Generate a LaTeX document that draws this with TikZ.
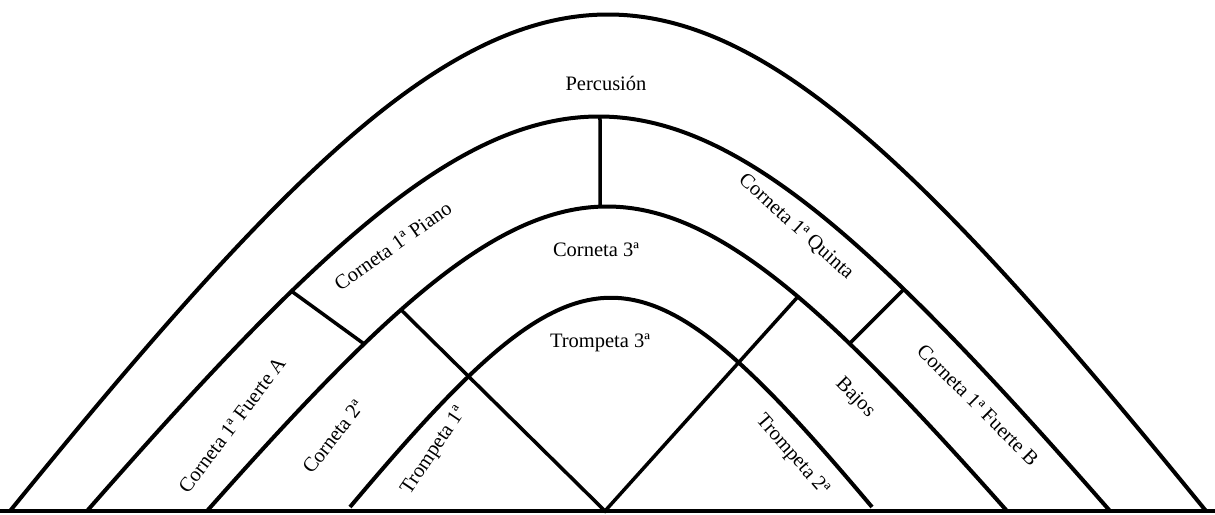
\documentclass[tikz,border=0pt]{standalone}
\usepackage{fontspec}
\setmainfont{Liberation Serif}
\usetikzlibrary{intersections}
\tikzset{%
  % Specifications for style of lines and texts:
        arcline/.style = {line width=4pt},
     divider/.style = {line width=3.5pt},
       floorline/.style = {line width=3.5pt},
   bandtext/.style = {inner sep=0pt, font=\fontsize{20.5}{24}\selectfont},
}

\begin{document}
\begin{tikzpicture}[x=1pt, y=-1pt]
  \useasboundingbox (0,0) rectangle (1215,514);
  % Specification of the four arcs
  \draw[arcline, name path=percu] (10,511) .. controls (548,-151) and (668,-151) .. (1206,511);
  \draw[arcline, name path=corn]  (87,511) .. controls (548,-15) and (650,-15) .. (1110,511);
  \draw[arcline, name path=inner] (207,511) .. controls (567,105) and (647,105) .. (1007,511);
  \draw[arcline, name path=tromp] (350,507) .. controls (585,228) and (637,228) .. (872,507);
  % floor
  \coordinate (floorL) at (0,511);
  \coordinate (floorR) at (1215,511);
  \coordinate (vbase)  at (605,511);
  \draw[floorline] (floorL) -- (floorR);
  % guide lines for the dividers
  \path[name path=gvert]   (600,90) -- (600,240);
  \path[name path=gpiano]  (250,261) -- (400,370);
  \path[name path=gleft]   (vbase) -- (305,215);
  \path[name path=gright]  (vbase) -- (875,211);
  \path[name path=gquinta] (820,373) -- (950,243);
  \path[name intersections={of=corn and gvert, by=vtop}];
  \path[name intersections={of=inner and gvert, by=vbot}];
  \path[name intersections={of=corn and gpiano, by=pianoA}];
  \path[name intersections={of=inner and gpiano, by=pianoB}];
  \path[name intersections={of=inner and gleft, by=vleft}];
  \path[name intersections={of=inner and gright, by=vright}];
  \path[name intersections={of=inner and gquinta, by=quintaA}];
  \path[name intersections={of=corn and gquinta, by=quintaB}];
  % Specification of the dividers
  \draw[divider] (vtop) -- (vbot);
  \draw[divider] (pianoA) -- (pianoB);
  \draw[divider] (quintaA) -- (quintaB);
  \draw[divider] (vleft) -- (vbase) -- (vright);
  % Specification of the texts
  \node (percusion) [bandtext] at (606,83) {Percusión};
  \node (piano)     [bandtext, rotate=35]  at (393,246) {Corneta 1ª Piano};
  \node (quinta)    [bandtext, rotate=-42] at (796,227) {Corneta 1ª Quinta};
  \node (cornetaC)  [bandtext] at (596,250) {Corneta 3ª};
  \node (trompetaC) [bandtext] at (600,343) {Trompeta 3ª};
  \node (fuerteA)   [bandtext, rotate=53]  at (232,425) {Corneta 1ª Fuerte A};
  \node (cornetaB)  [bandtext, rotate=52]  at (333,437) {Corneta 2ª};
  \node (trompetaA) [bandtext, rotate=56]  at (434,451) {Trompeta 1ª};
  \node (trompetaB) [bandtext, rotate=-49] at (792,455) {Trompeta 2ª};
  \node (bajos)     [bandtext, rotate=-45] at (855,398) {Bajos};
  \node (fuerteB)   [bandtext, rotate=-45] at (978,405) {Corneta 1ª Fuerte B};
\end{tikzpicture}
\end{document}
